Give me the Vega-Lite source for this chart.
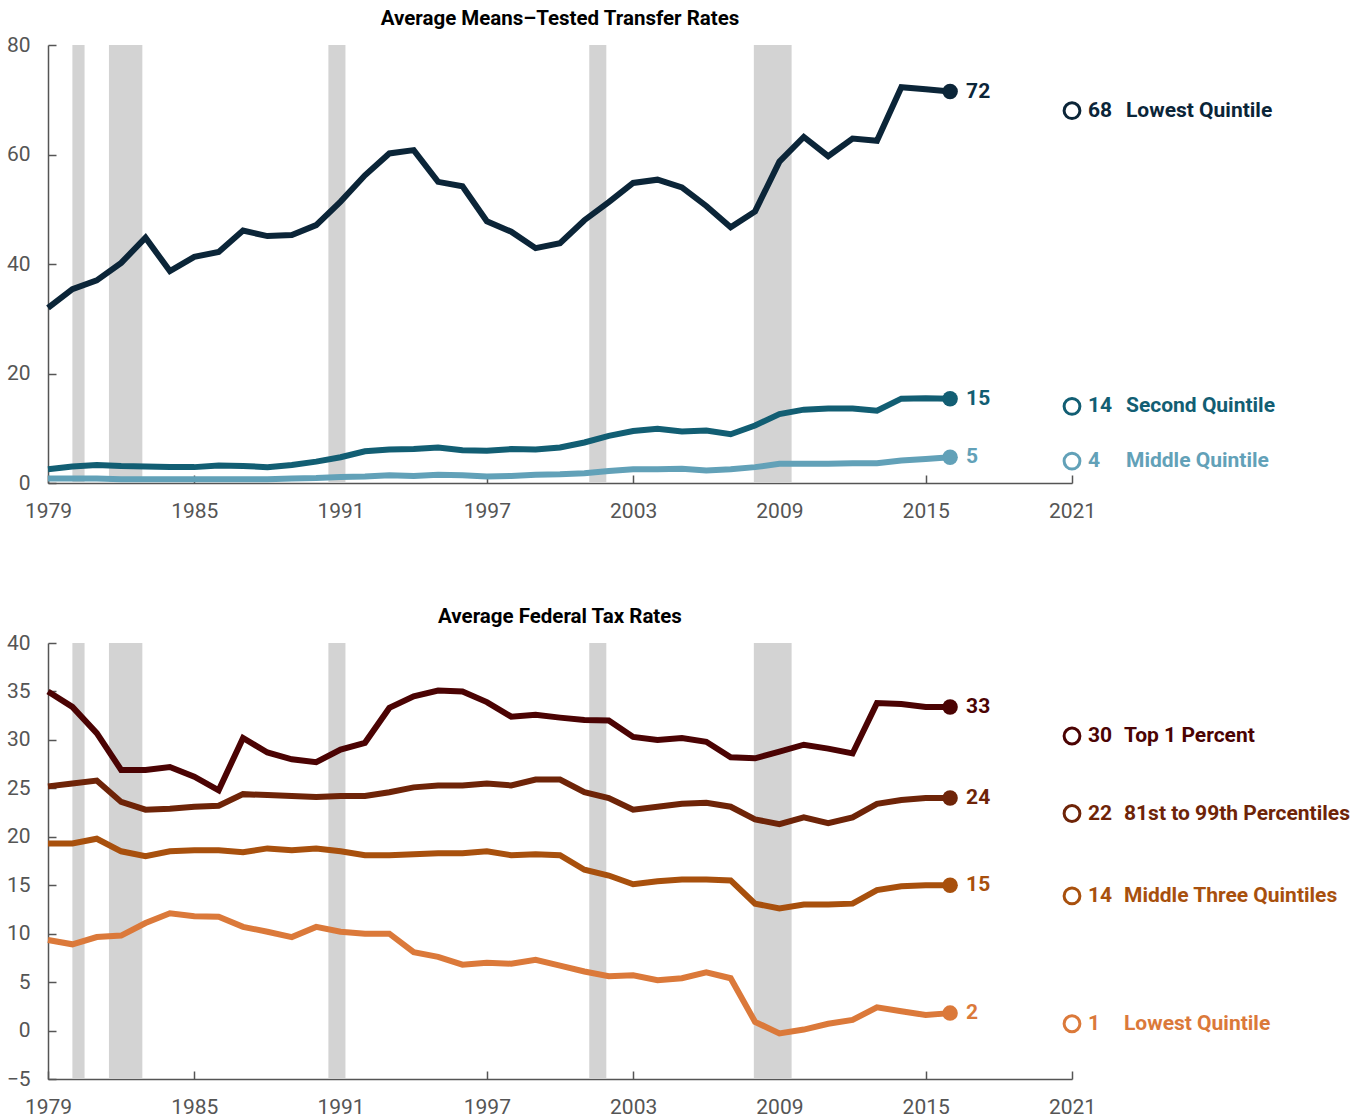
{
  "$schema": "https://vega.github.io/schema/vega-lite/v6.json",
  "padding": {"left": 6, "top": 8, "right": 5, "bottom": 5},
  "spacing": 85,
  "resolve": {"scale": {"color": "independent"}},
  "config": {
    "font": "Roboto",
    "view": {"stroke": null},
    "axis": {"grid": false, "labelFont": "Roboto", "labelFontSize": 21, "labelColor": "#555555", "domainColor": "#555555", "domainWidth": 1.5, "tickColor": "#555555", "tickWidth": 1.5, "labelFlush": false, "title": null},
    "title": {"font": "Roboto", "fontSize": 20.5, "fontWeight": "bold", "color": "#000000", "anchor": "middle", "offset": 5}
  },
  "datasets": {
    "recessions": [
      {"start": 1980.0, "end": 1980.5},
      {"start": 1981.5, "end": 1982.87},
      {"start": 1990.5, "end": 1991.2},
      {"start": 2001.2, "end": 2001.9},
      {"start": 2007.95, "end": 2009.5}
    ],
    "transfers": [
      {"year": 1979, "series": "Lowest Quintile", "value": 32.0},
      {"year": 1980, "series": "Lowest Quintile", "value": 35.4},
      {"year": 1981, "series": "Lowest Quintile", "value": 37.0},
      {"year": 1982, "series": "Lowest Quintile", "value": 40.2},
      {"year": 1983, "series": "Lowest Quintile", "value": 44.8},
      {"year": 1984, "series": "Lowest Quintile", "value": 38.7},
      {"year": 1985, "series": "Lowest Quintile", "value": 41.3},
      {"year": 1986, "series": "Lowest Quintile", "value": 42.2},
      {"year": 1987, "series": "Lowest Quintile", "value": 46.1},
      {"year": 1988, "series": "Lowest Quintile", "value": 45.1},
      {"year": 1989, "series": "Lowest Quintile", "value": 45.3},
      {"year": 1990, "series": "Lowest Quintile", "value": 47.1},
      {"year": 1991, "series": "Lowest Quintile", "value": 51.4},
      {"year": 1992, "series": "Lowest Quintile", "value": 56.2},
      {"year": 1993, "series": "Lowest Quintile", "value": 60.2},
      {"year": 1994, "series": "Lowest Quintile", "value": 60.8},
      {"year": 1995, "series": "Lowest Quintile", "value": 55.0},
      {"year": 1996, "series": "Lowest Quintile", "value": 54.2},
      {"year": 1997, "series": "Lowest Quintile", "value": 47.8},
      {"year": 1998, "series": "Lowest Quintile", "value": 45.9},
      {"year": 1999, "series": "Lowest Quintile", "value": 42.9},
      {"year": 2000, "series": "Lowest Quintile", "value": 43.8},
      {"year": 2001, "series": "Lowest Quintile", "value": 48.0},
      {"year": 2002, "series": "Lowest Quintile", "value": 51.3},
      {"year": 2003, "series": "Lowest Quintile", "value": 54.8},
      {"year": 2004, "series": "Lowest Quintile", "value": 55.4},
      {"year": 2005, "series": "Lowest Quintile", "value": 54.0},
      {"year": 2006, "series": "Lowest Quintile", "value": 50.6},
      {"year": 2007, "series": "Lowest Quintile", "value": 46.7},
      {"year": 2008, "series": "Lowest Quintile", "value": 49.6},
      {"year": 2009, "series": "Lowest Quintile", "value": 58.7},
      {"year": 2010, "series": "Lowest Quintile", "value": 63.2},
      {"year": 2011, "series": "Lowest Quintile", "value": 59.7},
      {"year": 2012, "series": "Lowest Quintile", "value": 62.9},
      {"year": 2013, "series": "Lowest Quintile", "value": 62.5},
      {"year": 2014, "series": "Lowest Quintile", "value": 72.3},
      {"year": 2015, "series": "Lowest Quintile", "value": 71.9},
      {"year": 2016, "series": "Lowest Quintile", "value": 71.5},
      {"year": 1979, "series": "Second Quintile", "value": 2.5},
      {"year": 1980, "series": "Second Quintile", "value": 3.0},
      {"year": 1981, "series": "Second Quintile", "value": 3.3},
      {"year": 1982, "series": "Second Quintile", "value": 3.1},
      {"year": 1983, "series": "Second Quintile", "value": 3.0},
      {"year": 1984, "series": "Second Quintile", "value": 2.9},
      {"year": 1985, "series": "Second Quintile", "value": 2.9},
      {"year": 1986, "series": "Second Quintile", "value": 3.2},
      {"year": 1987, "series": "Second Quintile", "value": 3.1},
      {"year": 1988, "series": "Second Quintile", "value": 2.9},
      {"year": 1989, "series": "Second Quintile", "value": 3.3},
      {"year": 1990, "series": "Second Quintile", "value": 3.9},
      {"year": 1991, "series": "Second Quintile", "value": 4.7},
      {"year": 1992, "series": "Second Quintile", "value": 5.8},
      {"year": 1993, "series": "Second Quintile", "value": 6.1},
      {"year": 1994, "series": "Second Quintile", "value": 6.2},
      {"year": 1995, "series": "Second Quintile", "value": 6.5},
      {"year": 1996, "series": "Second Quintile", "value": 6.0},
      {"year": 1997, "series": "Second Quintile", "value": 5.9},
      {"year": 1998, "series": "Second Quintile", "value": 6.2},
      {"year": 1999, "series": "Second Quintile", "value": 6.1},
      {"year": 2000, "series": "Second Quintile", "value": 6.5},
      {"year": 2001, "series": "Second Quintile", "value": 7.4},
      {"year": 2002, "series": "Second Quintile", "value": 8.6},
      {"year": 2003, "series": "Second Quintile", "value": 9.5},
      {"year": 2004, "series": "Second Quintile", "value": 9.9},
      {"year": 2005, "series": "Second Quintile", "value": 9.4},
      {"year": 2006, "series": "Second Quintile", "value": 9.6},
      {"year": 2007, "series": "Second Quintile", "value": 8.9},
      {"year": 2008, "series": "Second Quintile", "value": 10.5},
      {"year": 2009, "series": "Second Quintile", "value": 12.6},
      {"year": 2010, "series": "Second Quintile", "value": 13.4},
      {"year": 2011, "series": "Second Quintile", "value": 13.6},
      {"year": 2012, "series": "Second Quintile", "value": 13.6},
      {"year": 2013, "series": "Second Quintile", "value": 13.2},
      {"year": 2014, "series": "Second Quintile", "value": 15.4},
      {"year": 2015, "series": "Second Quintile", "value": 15.5},
      {"year": 2016, "series": "Second Quintile", "value": 15.4},
      {"year": 1979, "series": "Middle Quintile", "value": 0.8},
      {"year": 1980, "series": "Middle Quintile", "value": 0.8},
      {"year": 1981, "series": "Middle Quintile", "value": 0.8},
      {"year": 1982, "series": "Middle Quintile", "value": 0.7},
      {"year": 1983, "series": "Middle Quintile", "value": 0.7},
      {"year": 1984, "series": "Middle Quintile", "value": 0.7},
      {"year": 1985, "series": "Middle Quintile", "value": 0.7},
      {"year": 1986, "series": "Middle Quintile", "value": 0.7},
      {"year": 1987, "series": "Middle Quintile", "value": 0.7},
      {"year": 1988, "series": "Middle Quintile", "value": 0.7},
      {"year": 1989, "series": "Middle Quintile", "value": 0.8},
      {"year": 1990, "series": "Middle Quintile", "value": 0.9},
      {"year": 1991, "series": "Middle Quintile", "value": 1.1},
      {"year": 1992, "series": "Middle Quintile", "value": 1.2},
      {"year": 1993, "series": "Middle Quintile", "value": 1.4},
      {"year": 1994, "series": "Middle Quintile", "value": 1.3},
      {"year": 1995, "series": "Middle Quintile", "value": 1.5},
      {"year": 1996, "series": "Middle Quintile", "value": 1.4},
      {"year": 1997, "series": "Middle Quintile", "value": 1.2},
      {"year": 1998, "series": "Middle Quintile", "value": 1.3},
      {"year": 1999, "series": "Middle Quintile", "value": 1.5},
      {"year": 2000, "series": "Middle Quintile", "value": 1.6},
      {"year": 2001, "series": "Middle Quintile", "value": 1.8},
      {"year": 2002, "series": "Middle Quintile", "value": 2.2},
      {"year": 2003, "series": "Middle Quintile", "value": 2.5},
      {"year": 2004, "series": "Middle Quintile", "value": 2.5},
      {"year": 2005, "series": "Middle Quintile", "value": 2.6},
      {"year": 2006, "series": "Middle Quintile", "value": 2.3},
      {"year": 2007, "series": "Middle Quintile", "value": 2.5},
      {"year": 2008, "series": "Middle Quintile", "value": 2.9},
      {"year": 2009, "series": "Middle Quintile", "value": 3.5},
      {"year": 2010, "series": "Middle Quintile", "value": 3.5},
      {"year": 2011, "series": "Middle Quintile", "value": 3.5},
      {"year": 2012, "series": "Middle Quintile", "value": 3.6},
      {"year": 2013, "series": "Middle Quintile", "value": 3.6},
      {"year": 2014, "series": "Middle Quintile", "value": 4.1},
      {"year": 2015, "series": "Middle Quintile", "value": 4.4},
      {"year": 2016, "series": "Middle Quintile", "value": 4.7}
    ],
    "transferEnds": [
      {"series": "Lowest Quintile", "year": 2016, "value": 71.5, "label": "72"},
      {"series": "Second Quintile", "year": 2016, "value": 15.4, "label": "15"},
      {"series": "Middle Quintile", "year": 2016, "value": 4.7, "label": "5"}
    ],
    "transferProj": [
      {"series": "Lowest Quintile", "year": 2021, "value": 68, "label": "68"},
      {"series": "Second Quintile", "year": 2021, "value": 14, "label": "14"},
      {"series": "Middle Quintile", "year": 2021, "value": 4, "label": "4"}
    ],
    "taxes": [
      {"year": 1979, "series": "Top 1 Percent", "value": 35.0},
      {"year": 1980, "series": "Top 1 Percent", "value": 33.4},
      {"year": 1981, "series": "Top 1 Percent", "value": 30.7},
      {"year": 1982, "series": "Top 1 Percent", "value": 26.9},
      {"year": 1983, "series": "Top 1 Percent", "value": 26.9},
      {"year": 1984, "series": "Top 1 Percent", "value": 27.2},
      {"year": 1985, "series": "Top 1 Percent", "value": 26.2},
      {"year": 1986, "series": "Top 1 Percent", "value": 24.8},
      {"year": 1987, "series": "Top 1 Percent", "value": 30.2},
      {"year": 1988, "series": "Top 1 Percent", "value": 28.7},
      {"year": 1989, "series": "Top 1 Percent", "value": 28.0},
      {"year": 1990, "series": "Top 1 Percent", "value": 27.7},
      {"year": 1991, "series": "Top 1 Percent", "value": 29.0},
      {"year": 1992, "series": "Top 1 Percent", "value": 29.7},
      {"year": 1993, "series": "Top 1 Percent", "value": 33.3},
      {"year": 1994, "series": "Top 1 Percent", "value": 34.5},
      {"year": 1995, "series": "Top 1 Percent", "value": 35.1},
      {"year": 1996, "series": "Top 1 Percent", "value": 35.0},
      {"year": 1997, "series": "Top 1 Percent", "value": 33.9},
      {"year": 1998, "series": "Top 1 Percent", "value": 32.4},
      {"year": 1999, "series": "Top 1 Percent", "value": 32.6},
      {"year": 2000, "series": "Top 1 Percent", "value": 32.3},
      {"year": 2001, "series": "Top 1 Percent", "value": 32.05},
      {"year": 2002, "series": "Top 1 Percent", "value": 32.0},
      {"year": 2003, "series": "Top 1 Percent", "value": 30.3},
      {"year": 2004, "series": "Top 1 Percent", "value": 30.0},
      {"year": 2005, "series": "Top 1 Percent", "value": 30.2},
      {"year": 2006, "series": "Top 1 Percent", "value": 29.8},
      {"year": 2007, "series": "Top 1 Percent", "value": 28.2},
      {"year": 2008, "series": "Top 1 Percent", "value": 28.1},
      {"year": 2009, "series": "Top 1 Percent", "value": 28.8},
      {"year": 2010, "series": "Top 1 Percent", "value": 29.5},
      {"year": 2011, "series": "Top 1 Percent", "value": 29.1},
      {"year": 2012, "series": "Top 1 Percent", "value": 28.6},
      {"year": 2013, "series": "Top 1 Percent", "value": 33.8},
      {"year": 2014, "series": "Top 1 Percent", "value": 33.7},
      {"year": 2015, "series": "Top 1 Percent", "value": 33.4},
      {"year": 2016, "series": "Top 1 Percent", "value": 33.4},
      {"year": 1979, "series": "81st to 99th Percentiles", "value": 25.2},
      {"year": 1980, "series": "81st to 99th Percentiles", "value": 25.5},
      {"year": 1981, "series": "81st to 99th Percentiles", "value": 25.8},
      {"year": 1982, "series": "81st to 99th Percentiles", "value": 23.6},
      {"year": 1983, "series": "81st to 99th Percentiles", "value": 22.8},
      {"year": 1984, "series": "81st to 99th Percentiles", "value": 22.9},
      {"year": 1985, "series": "81st to 99th Percentiles", "value": 23.1},
      {"year": 1986, "series": "81st to 99th Percentiles", "value": 23.2},
      {"year": 1987, "series": "81st to 99th Percentiles", "value": 24.4},
      {"year": 1988, "series": "81st to 99th Percentiles", "value": 24.3},
      {"year": 1989, "series": "81st to 99th Percentiles", "value": 24.2},
      {"year": 1990, "series": "81st to 99th Percentiles", "value": 24.1},
      {"year": 1991, "series": "81st to 99th Percentiles", "value": 24.2},
      {"year": 1992, "series": "81st to 99th Percentiles", "value": 24.2},
      {"year": 1993, "series": "81st to 99th Percentiles", "value": 24.6},
      {"year": 1994, "series": "81st to 99th Percentiles", "value": 25.1},
      {"year": 1995, "series": "81st to 99th Percentiles", "value": 25.3},
      {"year": 1996, "series": "81st to 99th Percentiles", "value": 25.3},
      {"year": 1997, "series": "81st to 99th Percentiles", "value": 25.5},
      {"year": 1998, "series": "81st to 99th Percentiles", "value": 25.3},
      {"year": 1999, "series": "81st to 99th Percentiles", "value": 25.9},
      {"year": 2000, "series": "81st to 99th Percentiles", "value": 25.9},
      {"year": 2001, "series": "81st to 99th Percentiles", "value": 24.6},
      {"year": 2002, "series": "81st to 99th Percentiles", "value": 24.0},
      {"year": 2003, "series": "81st to 99th Percentiles", "value": 22.8},
      {"year": 2004, "series": "81st to 99th Percentiles", "value": 23.1},
      {"year": 2005, "series": "81st to 99th Percentiles", "value": 23.4},
      {"year": 2006, "series": "81st to 99th Percentiles", "value": 23.5},
      {"year": 2007, "series": "81st to 99th Percentiles", "value": 23.1},
      {"year": 2008, "series": "81st to 99th Percentiles", "value": 21.8},
      {"year": 2009, "series": "81st to 99th Percentiles", "value": 21.3},
      {"year": 2010, "series": "81st to 99th Percentiles", "value": 22.0},
      {"year": 2011, "series": "81st to 99th Percentiles", "value": 21.4},
      {"year": 2012, "series": "81st to 99th Percentiles", "value": 22.0},
      {"year": 2013, "series": "81st to 99th Percentiles", "value": 23.4},
      {"year": 2014, "series": "81st to 99th Percentiles", "value": 23.8},
      {"year": 2015, "series": "81st to 99th Percentiles", "value": 24.0},
      {"year": 2016, "series": "81st to 99th Percentiles", "value": 24.0},
      {"year": 1979, "series": "Middle Three Quintiles", "value": 19.3},
      {"year": 1980, "series": "Middle Three Quintiles", "value": 19.3},
      {"year": 1981, "series": "Middle Three Quintiles", "value": 19.8},
      {"year": 1982, "series": "Middle Three Quintiles", "value": 18.5},
      {"year": 1983, "series": "Middle Three Quintiles", "value": 18.0},
      {"year": 1984, "series": "Middle Three Quintiles", "value": 18.5},
      {"year": 1985, "series": "Middle Three Quintiles", "value": 18.6},
      {"year": 1986, "series": "Middle Three Quintiles", "value": 18.6},
      {"year": 1987, "series": "Middle Three Quintiles", "value": 18.4},
      {"year": 1988, "series": "Middle Three Quintiles", "value": 18.8},
      {"year": 1989, "series": "Middle Three Quintiles", "value": 18.6},
      {"year": 1990, "series": "Middle Three Quintiles", "value": 18.8},
      {"year": 1991, "series": "Middle Three Quintiles", "value": 18.5},
      {"year": 1992, "series": "Middle Three Quintiles", "value": 18.1},
      {"year": 1993, "series": "Middle Three Quintiles", "value": 18.1},
      {"year": 1994, "series": "Middle Three Quintiles", "value": 18.2},
      {"year": 1995, "series": "Middle Three Quintiles", "value": 18.3},
      {"year": 1996, "series": "Middle Three Quintiles", "value": 18.3},
      {"year": 1997, "series": "Middle Three Quintiles", "value": 18.5},
      {"year": 1998, "series": "Middle Three Quintiles", "value": 18.1},
      {"year": 1999, "series": "Middle Three Quintiles", "value": 18.2},
      {"year": 2000, "series": "Middle Three Quintiles", "value": 18.1},
      {"year": 2001, "series": "Middle Three Quintiles", "value": 16.6},
      {"year": 2002, "series": "Middle Three Quintiles", "value": 16.0},
      {"year": 2003, "series": "Middle Three Quintiles", "value": 15.1},
      {"year": 2004, "series": "Middle Three Quintiles", "value": 15.4},
      {"year": 2005, "series": "Middle Three Quintiles", "value": 15.6},
      {"year": 2006, "series": "Middle Three Quintiles", "value": 15.6},
      {"year": 2007, "series": "Middle Three Quintiles", "value": 15.5},
      {"year": 2008, "series": "Middle Three Quintiles", "value": 13.1},
      {"year": 2009, "series": "Middle Three Quintiles", "value": 12.6},
      {"year": 2010, "series": "Middle Three Quintiles", "value": 13.0},
      {"year": 2011, "series": "Middle Three Quintiles", "value": 13.0},
      {"year": 2012, "series": "Middle Three Quintiles", "value": 13.1},
      {"year": 2013, "series": "Middle Three Quintiles", "value": 14.5},
      {"year": 2014, "series": "Middle Three Quintiles", "value": 14.9},
      {"year": 2015, "series": "Middle Three Quintiles", "value": 15.0},
      {"year": 2016, "series": "Middle Three Quintiles", "value": 15.0},
      {"year": 1979, "series": "Lowest Quintile", "value": 9.35},
      {"year": 1980, "series": "Lowest Quintile", "value": 8.9},
      {"year": 1981, "series": "Lowest Quintile", "value": 9.65},
      {"year": 1982, "series": "Lowest Quintile", "value": 9.8},
      {"year": 1983, "series": "Lowest Quintile", "value": 11.1},
      {"year": 1984, "series": "Lowest Quintile", "value": 12.1},
      {"year": 1985, "series": "Lowest Quintile", "value": 11.8},
      {"year": 1986, "series": "Lowest Quintile", "value": 11.75},
      {"year": 1987, "series": "Lowest Quintile", "value": 10.7},
      {"year": 1988, "series": "Lowest Quintile", "value": 10.2},
      {"year": 1989, "series": "Lowest Quintile", "value": 9.65},
      {"year": 1990, "series": "Lowest Quintile", "value": 10.7},
      {"year": 1991, "series": "Lowest Quintile", "value": 10.2},
      {"year": 1992, "series": "Lowest Quintile", "value": 10.0},
      {"year": 1993, "series": "Lowest Quintile", "value": 10.0},
      {"year": 1994, "series": "Lowest Quintile", "value": 8.1},
      {"year": 1995, "series": "Lowest Quintile", "value": 7.6},
      {"year": 1996, "series": "Lowest Quintile", "value": 6.8},
      {"year": 1997, "series": "Lowest Quintile", "value": 7.0},
      {"year": 1998, "series": "Lowest Quintile", "value": 6.9},
      {"year": 1999, "series": "Lowest Quintile", "value": 7.3},
      {"year": 2000, "series": "Lowest Quintile", "value": 6.7},
      {"year": 2001, "series": "Lowest Quintile", "value": 6.1},
      {"year": 2002, "series": "Lowest Quintile", "value": 5.6},
      {"year": 2003, "series": "Lowest Quintile", "value": 5.7},
      {"year": 2004, "series": "Lowest Quintile", "value": 5.2},
      {"year": 2005, "series": "Lowest Quintile", "value": 5.4},
      {"year": 2006, "series": "Lowest Quintile", "value": 6.0},
      {"year": 2007, "series": "Lowest Quintile", "value": 5.4},
      {"year": 2008, "series": "Lowest Quintile", "value": 0.9},
      {"year": 2009, "series": "Lowest Quintile", "value": -0.3},
      {"year": 2010, "series": "Lowest Quintile", "value": 0.1},
      {"year": 2011, "series": "Lowest Quintile", "value": 0.7},
      {"year": 2012, "series": "Lowest Quintile", "value": 1.1},
      {"year": 2013, "series": "Lowest Quintile", "value": 2.4},
      {"year": 2014, "series": "Lowest Quintile", "value": 2.0},
      {"year": 2015, "series": "Lowest Quintile", "value": 1.6},
      {"year": 2016, "series": "Lowest Quintile", "value": 1.8}
    ],
    "taxEnds": [
      {"series": "Top 1 Percent", "year": 2016, "value": 33.4, "label": "33"},
      {"series": "81st to 99th Percentiles", "year": 2016, "value": 24.0, "label": "24"},
      {"series": "Middle Three Quintiles", "year": 2016, "value": 15.0, "label": "15"},
      {"series": "Lowest Quintile", "year": 2016, "value": 1.8, "label": "2"}
    ],
    "taxProj": [
      {"series": "Top 1 Percent", "year": 2021, "value": 30.4, "label": "30"},
      {"series": "81st to 99th Percentiles", "year": 2021, "value": 22.4, "label": "22"},
      {"series": "Middle Three Quintiles", "year": 2021, "value": 13.9, "label": "14"},
      {"series": "Lowest Quintile", "year": 2021, "value": 0.7, "label": "1"}
    ]
  },
  "vconcat": [
    {
      "title": "Average Means–Tested Transfer Rates",
      "width": 1024,
      "height": 438,
      "resolve": {"axis": {"x": "independent", "y": "independent"}},
      "encoding": {
        "color": {"field": "series", "type": "nominal", "legend": null, "scale": {"domain": ["Lowest Quintile", "Second Quintile", "Middle Quintile"], "range": ["#0b2538", "#125e73", "#62a1b8"]}}
      },
      "layer": [
        {
          "data": {"name": "recessions"},
          "mark": {"type": "rect", "color": "#d3d3d3"},
          "encoding": {
            "color": null,
            "x": {"field": "start", "type": "quantitative", "scale": {"domain": [1979, 2021], "nice": false}, "axis": {"orient": "bottom", "values": [1979, 1985, 1991, 1997, 2003, 2009, 2015, 2021], "format": "d", "ticks": false, "labelPadding": 17}},
            "x2": {"field": "end"}
          }
        },
        {
          "data": {"name": "transfers"},
          "mark": {"type": "line", "strokeWidth": 6},
          "encoding": {
            "x": {"field": "year", "type": "quantitative", "axis": {"orient": "bottom", "values": [1979, 1985, 1991, 1997, 2003, 2009, 2015, 2021], "offset": -8, "tickSize": 8, "labels": false, "domain": false, "ticks": true}},
            "y": {"field": "value", "type": "quantitative", "scale": {"domain": [0, 80], "nice": false}, "axis": {"orient": "left", "values": [0, 20, 40, 60, 80], "ticks": false, "labelPadding": 18}}
          }
        },
        {
          "data": {"name": "transferEnds"},
          "mark": {"type": "point", "filled": true, "opacity": 1, "size": 240},
          "encoding": {"x": {"field": "year", "type": "quantitative", "axis": null}, "y": {"field": "value", "type": "quantitative", "axis": {"orient": "left", "values": [0, 20, 40, 60, 80], "offset": -8, "tickSize": 8, "labels": false, "domain": false, "ticks": true}}}
        },
        {
          "data": {"name": "transferEnds"},
          "mark": {"type": "text", "align": "left", "baseline": "middle", "dx": 16, "fontSize": 21, "fontWeight": "bold"},
          "encoding": {"x": {"field": "year", "type": "quantitative", "axis": null}, "y": {"field": "value", "type": "quantitative", "axis": null}, "text": {"field": "label"}}
        },
        {
          "data": {"name": "transferProj"},
          "mark": {"type": "point", "filled": false, "opacity": 1, "size": 250, "strokeWidth": 3},
          "encoding": {"x": {"field": "year", "type": "quantitative", "axis": null}, "y": {"field": "value", "type": "quantitative", "axis": null}}
        },
        {
          "data": {"name": "transferProj"},
          "mark": {"type": "text", "align": "left", "baseline": "middle", "dx": 16, "fontSize": 21, "fontWeight": "bold"},
          "encoding": {"x": {"field": "year", "type": "quantitative", "axis": null}, "y": {"field": "value", "type": "quantitative", "axis": null}, "text": {"field": "label"}}
        },
        {
          "data": {"name": "transferProj"},
          "mark": {"type": "text", "align": "left", "baseline": "middle", "dx": 54, "fontSize": 21, "fontWeight": "bold"},
          "encoding": {"x": {"field": "year", "type": "quantitative", "axis": null}, "y": {"field": "value", "type": "quantitative", "axis": null}, "text": {"field": "series"}}
        }
      ]
    },
    {
      "title": "Average Federal Tax Rates",
      "width": 1024,
      "height": 436,
      "resolve": {"axis": {"x": "independent", "y": "independent"}},
      "encoding": {
        "color": {"field": "series", "type": "nominal", "legend": null, "scale": {"domain": ["Top 1 Percent", "81st to 99th Percentiles", "Middle Three Quintiles", "Lowest Quintile"], "range": ["#4b0303", "#6e2408", "#a8500d", "#db793a"]}}
      },
      "layer": [
        {
          "data": {"name": "recessions"},
          "mark": {"type": "rect", "color": "#d3d3d3"},
          "encoding": {
            "color": null,
            "x": {"field": "start", "type": "quantitative", "scale": {"domain": [1979, 2021], "nice": false}, "axis": {"orient": "bottom", "values": [1979, 1985, 1991, 1997, 2003, 2009, 2015, 2021], "format": "d", "ticks": false, "labelPadding": 17}},
            "x2": {"field": "end"}
          }
        },
        {
          "mark": {"type": "rule", "color": "#777777", "strokeWidth": 1.5},
          "encoding": {"color": null, "y": {"datum": 0, "type": "quantitative", "axis": null}}
        },
        {
          "data": {"name": "taxes"},
          "mark": {"type": "line", "strokeWidth": 6},
          "encoding": {
            "x": {"field": "year", "type": "quantitative", "axis": {"orient": "bottom", "values": [1979, 1985, 1991, 1997, 2003, 2009, 2015, 2021], "offset": -8, "tickSize": 8, "labels": false, "domain": false, "ticks": true}},
            "y": {"field": "value", "type": "quantitative", "scale": {"domain": [-5, 40], "nice": false}, "axis": {"orient": "left", "values": [-5, 0, 5, 10, 15, 20, 25, 30, 35, 40], "ticks": false, "labelPadding": 18}}
          }
        },
        {
          "data": {"name": "taxEnds"},
          "mark": {"type": "point", "filled": true, "opacity": 1, "size": 240},
          "encoding": {"x": {"field": "year", "type": "quantitative", "axis": null}, "y": {"field": "value", "type": "quantitative", "axis": {"orient": "left", "values": [-5, 0, 5, 10, 15, 20, 25, 30, 35, 40], "offset": -8, "tickSize": 8, "labels": false, "domain": false, "ticks": true}}}
        },
        {
          "data": {"name": "taxEnds"},
          "mark": {"type": "text", "align": "left", "baseline": "middle", "dx": 16, "fontSize": 21, "fontWeight": "bold"},
          "encoding": {"x": {"field": "year", "type": "quantitative", "axis": null}, "y": {"field": "value", "type": "quantitative", "axis": null}, "text": {"field": "label"}}
        },
        {
          "data": {"name": "taxProj"},
          "mark": {"type": "point", "filled": false, "opacity": 1, "size": 250, "strokeWidth": 3},
          "encoding": {"x": {"field": "year", "type": "quantitative", "axis": null}, "y": {"field": "value", "type": "quantitative", "axis": null}}
        },
        {
          "data": {"name": "taxProj"},
          "mark": {"type": "text", "align": "left", "baseline": "middle", "dx": 16, "fontSize": 21, "fontWeight": "bold"},
          "encoding": {"x": {"field": "year", "type": "quantitative", "axis": null}, "y": {"field": "value", "type": "quantitative", "axis": null}, "text": {"field": "label"}}
        },
        {
          "data": {"name": "taxProj"},
          "mark": {"type": "text", "align": "left", "baseline": "middle", "dx": 52, "fontSize": 21, "fontWeight": "bold"},
          "encoding": {"x": {"field": "year", "type": "quantitative", "axis": null}, "y": {"field": "value", "type": "quantitative", "axis": null}, "text": {"field": "series"}}
        }
      ]
    }
  ]
}
